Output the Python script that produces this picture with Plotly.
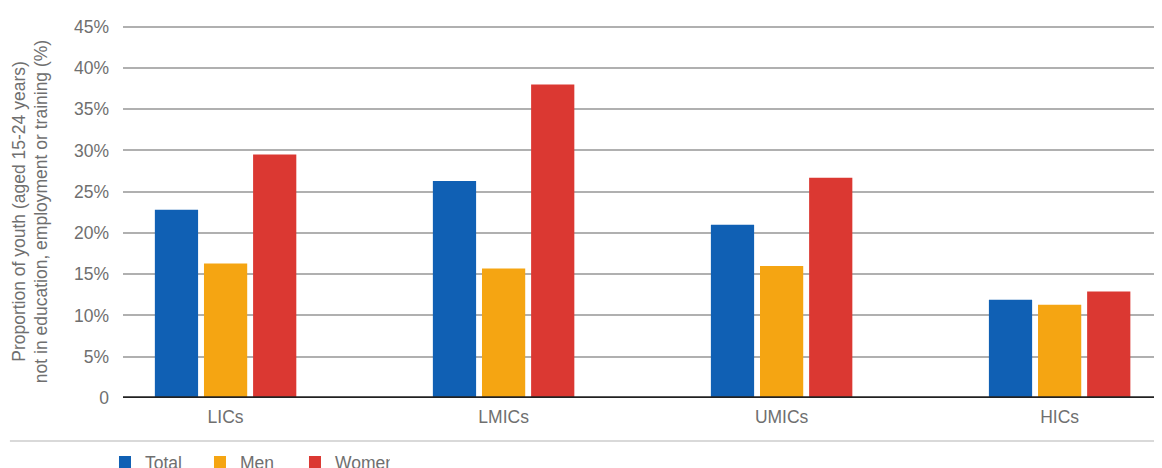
import plotly.graph_objects as go

categories = ["LICs", "LMICs", "UMICs", "HICs"]
total = [22.8, 26.3, 21.0, 11.9]
men = [16.3, 15.7, 16.0, 11.3]
women = [29.5, 38.0, 26.7, 12.9]
tick_vals = [0, 5, 10, 15, 20, 25, 30, 35, 40, 45]
tick_text = ["0", "5%", "10%", "15%", "20%", "25%", "30%", "35%", "40%", "45%"]

FONT = "Liberation Sans"
GRAY = "#6f6f6f"
FS = 17.5

fig = go.Figure()
for name, vals, col in [("Total", total, "#1060b4"), ("Men", men, "#f5a512"), ("Women", women, "#db3832")]:
    fig.add_trace(go.Bar(x=categories, y=vals, name=name, marker=dict(color=col, line=dict(width=0))))

fig.update_layout(
    width=1162, height=468,
    margin=dict(l=115, r=0, t=17.4, b=78, autoexpand=False),
    paper_bgcolor="white", plot_bgcolor="white",
    barmode="group", bargap=0.47, bargroupgap=0.12,
    font=dict(family=FONT, size=FS, color=GRAY),
    showlegend=True,
    legend=dict(orientation="h", x=-0.0172, xanchor="left", y=-0.172, yanchor="middle",
                font=dict(size=FS, color=GRAY), itemwidth=30, entrywidth=50, entrywidthmode="pixels",
                tracegroupgap=0, bgcolor="rgba(0,0,0,0)"),
    xaxis=dict(range=[-0.369, 3.397], showgrid=False, showline=False, ticks="",
               tickfont=dict(size=FS, color=GRAY), zeroline=False, automargin=False,
               ticklabelstandoff=6),
    yaxis=dict(range=[0, 45.2], tickvals=tick_vals, ticktext=tick_text,
               showgrid=True, gridcolor="#b0b0b0", gridwidth=1.5,
               zeroline=False, ticks="", ticklabelstandoff=13, automargin=False,
               tickfont=dict(size=FS, color=GRAY),
               title=dict(text="Proportion of youth (aged 15-24 years)<br>not in education, employment or training (%)",
                          font=dict(size=FS, color=GRAY), standoff=21)),
)
# thick baseline at zero
fig.add_shape(type="line", xref="paper", yref="y", x0=0, x1=1, y0=0, y1=0,
              line=dict(color="#222222", width=3.5), layer="above")
# light separator above legend
fig.add_shape(type="line", xref="paper", yref="paper", x0=-0.108, x1=1, y0=-0.1154, y1=-0.1154,
              line=dict(color="#cccccc", width=1.5))

fig.write_html("out.html")
